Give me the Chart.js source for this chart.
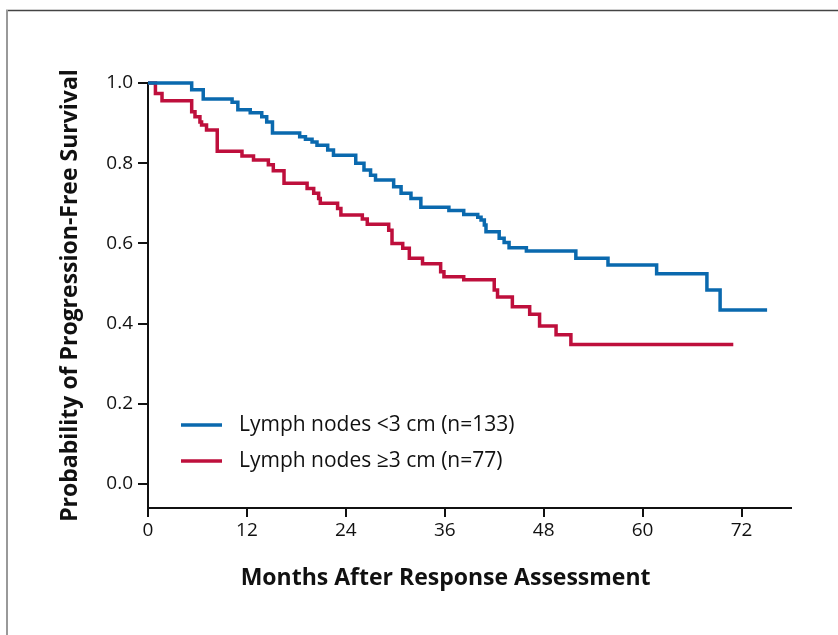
<!DOCTYPE html>
<html>
<head>
<meta charset="utf-8">
<script src="https://cdn.jsdelivr.net/npm/chart.js@4.4.0/dist/chart.umd.min.js"></script>
<style>
  html, body { margin: 0; padding: 0; background: #fff; }
  #wrap { width: 838px; height: 635px; position: relative; }
</style>
</head>
<body>
<div id="wrap"><canvas id="pfsChart"></canvas></div>
<script>
const seriesLabels = ['Lymph nodes <3 cm (n=133)', 'Lymph nodes \u22653 cm (n=77)'];

// Kaplan-Meier steps (months, survival after the step)
const smallMonths = [0, 5.3, 6.7, 10.2, 10.9, 12.4, 13.8, 14.4, 15.1, 18.4, 19.1, 19.9, 20.5, 21.8, 22.5, 25.2, 26.2, 27.0, 27.6, 29.8,
                     30.7, 31.9, 33.1, 36.5, 38.3, 40.0, 40.4, 40.8, 41.0, 42.6, 43.2, 43.8, 45.9, 51.9, 55.8, 61.7, 67.8, 69.4, 75.1];
const smallPfs    = [1.0, 0.983, 0.96, 0.952, 0.933, 0.926, 0.916, 0.903, 0.875, 0.866, 0.86, 0.853, 0.845, 0.833, 0.82, 0.80, 0.783, 0.77, 0.758, 0.741,
                     0.725, 0.712, 0.69, 0.682, 0.672, 0.665, 0.658, 0.646, 0.629, 0.613, 0.602, 0.589, 0.581, 0.563, 0.546, 0.524, 0.484, 0.434, 0.434];

const largeMonths = [0, 0.9, 1.7, 5.3, 5.7, 6.3, 6.5, 7.1, 8.4, 11.4, 12.8, 14.6, 15.2, 16.5, 19.3, 20.1, 20.7, 20.9, 23.0, 23.4,
                     26.0, 26.6, 29.2, 29.6, 30.9, 31.7, 33.3, 35.5, 35.9, 38.3, 42.0, 42.4, 44.2, 46.3, 47.5, 49.5, 51.3, 71.0];
const largePfs    = [1.0, 0.974, 0.956, 0.928, 0.916, 0.903, 0.895, 0.883, 0.830, 0.818, 0.808, 0.796, 0.781, 0.750, 0.737, 0.725, 0.712, 0.700, 0.687, 0.671,
                     0.661, 0.648, 0.633, 0.600, 0.588, 0.563, 0.549, 0.529, 0.517, 0.509, 0.484, 0.466, 0.442, 0.423, 0.394, 0.372, 0.348, 0.348];

const xTicks = [0, 12, 24, 36, 48, 60, 72];
const yTicks = [0, 0.2, 0.4, 0.6, 0.8, 1.0];

const toPoints = (xs, ys) => xs.map((x, i) => ({x: x, y: ys[i]}));

Chart.defaults.font.family = "'Open Sans', 'Noto Sans', sans-serif";
Chart.defaults.color = '#111';

// thin page frame (top + left edge only)
const frame = {
    id: 'frame',
    beforeDraw(chart) {
        const ctx = chart.ctx;
        ctx.save();
        ctx.fillStyle = '#fff';
        ctx.fillRect(0, 0, chart.width, chart.height);
        ctx.strokeStyle = '#444';
        ctx.lineWidth = 1.5;
        ctx.beginPath();
        ctx.moveTo(6, 10.5);
        ctx.lineTo(chart.width, 10.5);
        ctx.stroke();
        ctx.strokeStyle = '#999';
        ctx.lineWidth = 2;
        ctx.beginPath();
        ctx.moveTo(7, 10);
        ctx.lineTo(7, chart.height);
        ctx.stroke();
        ctx.restore();
    }
};

// legend sits inside the plot, lower left
const insideLegend = {
    id: 'insideLegend',
    afterDraw(chart) {
        const ctx = chart.ctx;
        const area = chart.chartArea;
        ctx.save();
        ctx.font = "21px 'Open Sans', sans-serif";
        ctx.textBaseline = 'middle';
        chart.data.datasets.forEach((ds, i) => {
            const y = area.top + 342 + i * 36;
            ctx.strokeStyle = ds.borderColor;
            ctx.lineWidth = 3.5;
            ctx.beginPath();
            ctx.moveTo(area.left + 33, y);
            ctx.lineTo(area.left + 74, y);
            ctx.stroke();
            ctx.fillStyle = '#111';
            ctx.fillText(ds.label, area.left + 91, y);
        });
        ctx.restore();
    }
};

new Chart(document.getElementById('pfsChart'), {
    type: 'line',
    data: {
        datasets: [
            {
                label: seriesLabels[0],
                data: toPoints(smallMonths, smallPfs),
                borderColor: '#0a69ae',
                borderWidth: 3.5,
                stepped: true,
                pointRadius: 0,
                fill: false,
                clip: false
            },
            {
                label: seriesLabels[1],
                data: toPoints(largeMonths, largePfs),
                borderColor: '#be0f3c',
                borderWidth: 3.5,
                stepped: true,
                pointRadius: 0,
                fill: false,
                clip: false
            }
        ]
    },
    options: {
        responsive: true,
        maintainAspectRatio: false,
        animation: false,
        layout: { padding: { top: 83, right: 47, bottom: 0, left: 57 } },
        plugins: {
            legend: { display: false },
            tooltip: { enabled: false }
        },
        scales: {
            x: {
                type: 'linear',
                min: 0,
                max: 78,
                afterBuildTicks: (s) => { s.ticks = xTicks.map(v => ({value: v})); },
                afterFit: (s) => { s.height = 127; },
                grid: { drawOnChartArea: false, drawTicks: true, tickLength: 9, color: '#111', lineWidth: 2 },
                border: { color: '#111', width: 2 },
                ticks: { font: { size: 19 }, padding: 2, maxRotation: 0 },
                title: {
                    display: true,
                    // trailing spaces nudge the centred title left, as in the figure
                    text: 'Months After Response Assessment        ',
                    font: { size: 23, weight: 'bold' },
                    padding: { top: 0, bottom: 43 }
                }
            },
            y: {
                type: 'linear',
                min: -0.06,
                max: 1.0,
                afterBuildTicks: (s) => { s.ticks = yTicks.map(v => ({value: v})); },
                afterFit: (s) => { s.width = 91; },
                grid: { drawOnChartArea: false, drawTicks: true, tickLength: 10, color: '#111', lineWidth: 2 },
                border: { color: '#111', width: 2 },
                ticks: { font: { size: 19 }, padding: 5, callback: (v) => v.toFixed(1) },
                title: {
                    display: true,
                    text: 'Probability of Progression-Free Survival',
                    font: { size: 23, weight: 'bold' },
                    padding: { top: 0, bottom: 0 }
                }
            }
        }
    },
    plugins: [frame, insideLegend]
});
</script>
</body>
</html>
